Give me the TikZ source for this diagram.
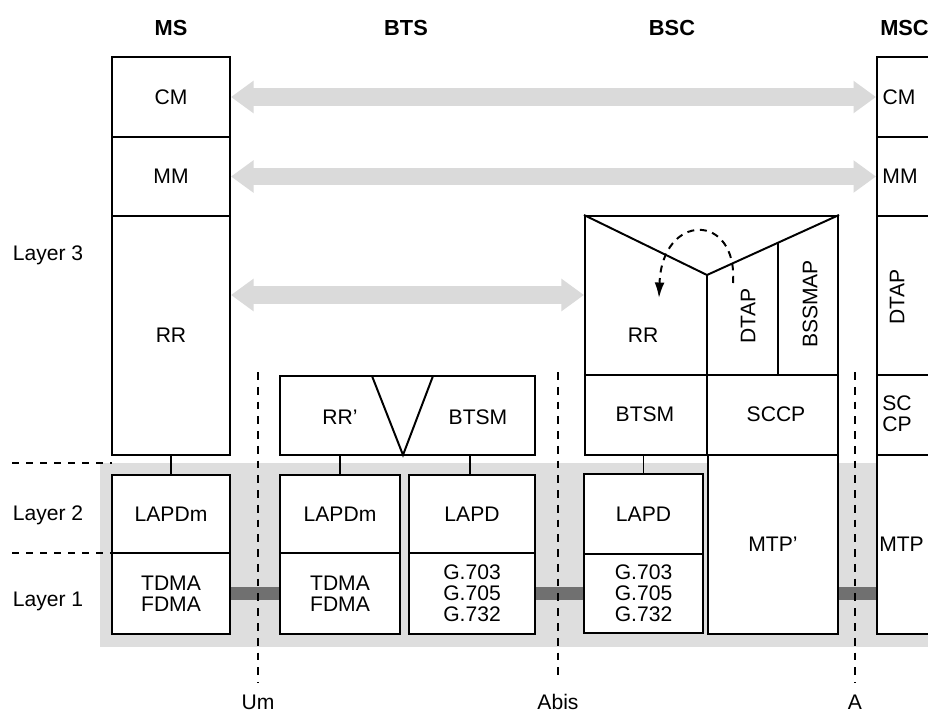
\documentclass[tikz,border=0pt]{standalone}
\usepackage{fontspec}
\setmainfont{Liberation Sans}
\usetikzlibrary{arrows.meta}
\definecolor{bandgray}{RGB}{222,222,222}
\definecolor{peergray}{RGB}{218,218,218}
\definecolor{linkgray}{RGB}{112,112,112}
\tikzset{
  layerbox/.style={draw, line width=1.4pt, fill=white, inner sep=0pt, align=center,
    font=\fontsize{15}{15}\selectfont},
  boxtext/.style={inner sep=0pt, align=center, font=\fontsize{15}{15}\selectfont},
  headtext/.style={inner sep=0pt, font=\fontsize{15.5}{17}\selectfont\bfseries},
  peerarrow/.style={draw=peergray, line width=12.5pt,
    {Triangle[length=16pt,width=22pt,fill=peergray,color=peergray]}-{Triangle[length=16pt,width=22pt,fill=peergray,color=peergray]}},
  physlink/.style={draw=linkgray, line width=9.5pt},
  ifline/.style={line width=1.4pt, dash pattern=on 5.5pt off 5pt},
  layerline/.style={line width=1.4pt, dash pattern=on 5pt off 5pt},
}
\begin{document}
\begin{tikzpicture}[x=0.025cm, y=-0.025cm]
\clip (0,0) rectangle (928,718);
\fill[white] (0,0) rectangle (928,718);
% layer 1/2 band
\fill[bandgray] (100,463) rectangle (940,647);
\draw[layerline] (12,463) -- (112,463);
\draw[layerline] (12,553) -- (112,553);

% headers and layer labels
\node[headtext] (hms) at (171,28) {MS};
\node[headtext] (hbts) at (406,28) {BTS};
\node[headtext] (hbsc) at (672,28) {BSC};
\node[headtext, anchor=west] (hmsc) at (880,28) {MSC};
\node[boxtext] (l3) at (48,255) {Layer 3};
\node[boxtext] (l2) at (48,515) {Layer 2};
\node[boxtext] (l1) at (48,601) {Layer 1};

% MS
\node[layerbox, minimum width=2.95cm, minimum height=2cm] (mscm) at (171,97) {CM};
\node[layerbox, minimum width=2.95cm, minimum height=1.975cm] (msmm) at (171,176.5) {MM};
\node[layerbox, minimum width=2.95cm, minimum height=5.975cm] (msrr) at (171,335.5) {RR};
\node[layerbox, minimum width=2.95cm, minimum height=1.95cm] (mslapdm) at (171,514) {LAPDm};
\node[layerbox, minimum width=2.95cm, minimum height=2.025cm] (msphy) at (171,593.5) {TDMA\\FDMA};
\draw[line width=1.4pt] (msrr.south) -- (mslapdm.north);

% BTS
\node[layerbox, minimum width=6.375cm, minimum height=1.975cm] (btstop) at (407.5,415.5) {};
\draw[line width=1.4pt] (372,376) -- (403,455) -- (433,376);
\node[boxtext] (btsrr) at (340,417) {RR’};
\node[boxtext] (btsbtsm) at (478,417) {BTSM};
\node[layerbox, minimum width=3cm, minimum height=1.95cm] (btslapdm) at (340,514) {LAPDm};
\node[layerbox, minimum width=3cm, minimum height=2.025cm] (btsphy) at (340,593.5) {TDMA\\FDMA};
\node[layerbox, minimum width=3.15cm, minimum height=1.95cm] (btslapd) at (472,514) {LAPD};
\node[layerbox, minimum width=3.15cm, minimum height=2.025cm] (btsg) at (472,593.5) {G.703\\G.705\\G.732};
\draw[line width=1.4pt] (btslapdm.north) -- (btslapdm.north |- btstop.south);
\draw[line width=1.4pt] (btslapd.north) ++(-2,0) -- (470,455);

% BSC
\node[layerbox, minimum width=6.325cm, minimum height=5.975cm] (bsc) at (711.5,335.5) {};
\coordinate (vtip) at (707,275);
\draw[line width=1.4pt] (bsc.north west) -- (vtip) -- (bsc.north east);
\draw[line width=1.4pt] (vtip) -- (vtip |- bsc.south);
\draw[line width=1.4pt] (bsc.west |- 0,375) -- (bsc.east |- 0,375);
\draw[line width=1.4pt] (778,243) -- (778,375);
\node[boxtext] (bscrr) at (643,335) {RR};
\node[boxtext, rotate=90] (bscdtap) at (748,316) {DTAP};
\node[boxtext, rotate=90] (bscbssmap) at (810,304) {BSSMAP};
\node[boxtext] (bscbtsm) at (645,414) {BTSM};
\node[boxtext] (bscsccp) at (776,414) {SCCP};
\draw[line width=1.4pt, dash pattern=on 5pt off 4pt, -{Latex[length=11pt,width=7pt]}]
  (733,283) .. controls (738,212) and (662,212) .. (659,298);
\node[layerbox, minimum width=2.975cm, minimum height=2cm] (bsclapd) at (643.5,514) {LAPD};
\node[layerbox, minimum width=2.975cm, minimum height=1.975cm] (bscg) at (643.5,593.5) {G.703\\G.705\\G.732};
\node[layerbox, minimum width=3.25cm, minimum height=4.475cm] (bscmtp) at (773,544.5) {MTP’};
\draw[line width=1.4pt] (bsclapd.north) -- (bsclapd.north |- bsc.south);

% MSC
\node[layerbox, minimum width=2.3cm, minimum height=2cm] (msccm) at (923,97) {};
\node[layerbox, minimum width=2.3cm, minimum height=1.975cm] (mscmm) at (923,176.5) {};
\node[layerbox, minimum width=2.3cm, minimum height=3.975cm] (mscdtap) at (923,295.5) {};
\node[layerbox, minimum width=2.3cm, minimum height=2cm] (mscsccp) at (923,415) {};
\node[layerbox, minimum width=2.3cm, minimum height=4.475cm] (mscmtp) at (923,544.5) {};
\node[boxtext] (tcm) at (899,97) {CM};
\node[boxtext] (tmm) at (900,176) {MM};
\node[boxtext, rotate=90] (tdtap) at (897,297) {DTAP};
\node[boxtext] (tsccp) at (897,414) {SC\\CP};
\node[boxtext, anchor=west] (tmtp) at (879,544) {MTP};

% peer-to-peer arrows
\draw[peerarrow] (mscm.east) -- (msccm.west);
\draw[peerarrow] (msmm.east) -- (mscmm.west);
\draw[peerarrow] ([yshift=1.0125cm]msrr.east) -- ([yshift=1.0125cm]bsc.west);

% physical links
\draw[physlink] (msphy.east) -- (btsphy.west);
\draw[physlink] (btsg.east) -- (bscg.west);
\draw[physlink] ([yshift=-1.225cm]bscmtp.east) -- ([yshift=-1.225cm]mscmtp.west);

% interfaces
\coordinate (umtop) at (258,372);
\coordinate (abistop) at (558,372);
\coordinate (atop) at (855,372);
\node[boxtext] (um) at (258,702) {Um};
\node[boxtext] (abis) at (558,702) {Abis};
\node[boxtext] (aif) at (855,702) {A};
\draw[ifline] (umtop) -- ([yshift=0.3cm]um.north);
\draw[ifline] (abistop) -- ([yshift=0.3cm]abis.north);
\draw[ifline] (atop) -- ([yshift=0.3cm]aif.north);
\end{tikzpicture}
\end{document}
